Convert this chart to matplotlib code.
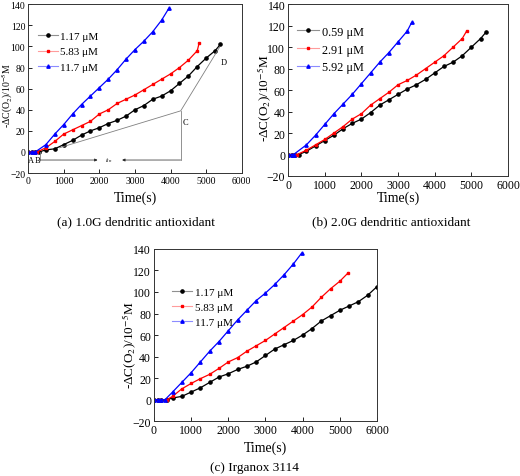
import matplotlib
matplotlib.use("Agg")
import matplotlib.pyplot as plt
from matplotlib.lines import Line2D

plt.rcParams['font.family'] = ['Liberation Serif', 'DejaVu Serif']
plt.rcParams['mathtext.fontset'] = 'stix'

# ---- data (time in s, -dC(O2) in 1e-5 M) ----
# (a) 1.0G dendritic antioxidant
t_a1 = [0, 100, 200, 300, 500, 750, 1000, 1250, 1500, 1750, 2000, 2250, 2500, 2750, 3000, 3250,
        3500, 3750, 4000, 4250, 4500, 4750, 5000, 5250, 5400]
y_a1 = [0, 0, 0, 0, 2, 3, 7, 11, 16, 20, 23, 27, 30, 34, 40, 44, 50, 53, 58, 65, 72, 81, 89, 96, 102]
t_a2 = [0, 100, 200, 250, 500, 750, 1000, 1250, 1500, 1750, 2000, 2250, 2500, 2750, 3000, 3250,
        3500, 3750, 4000, 4250, 4500, 4750, 4800]
y_a2 = [0, 0, 0, 0, 4, 10, 17, 21, 25, 29, 36, 40, 46, 50, 54, 59, 64, 69, 74, 80, 87, 96, 103]
t_a3 = [0, 100, 200, 500, 750, 1000, 1250, 1500, 1750, 2000, 2250, 2500, 2750, 3000, 3250,
        3500, 3750, 3950]
y_a3 = [0, 0, 0, 7, 17, 26, 36, 45, 53, 61, 69, 78, 88, 97, 105, 114, 125, 136]

# (b) 2.0G dendritic antioxidant
t_b1 = [0, 100, 200, 300, 500, 750, 1000, 1250, 1500, 1750, 2000, 2250, 2500, 2750, 3000, 3250,
        3500, 3750, 4000, 4250, 4500, 4750, 5000, 5250, 5400]
y_b1 = [0, 0, 0, 0, 3, 8, 13, 18, 24, 29, 33, 39, 46, 51, 56, 61, 65, 70, 76, 82, 86, 92, 100, 108, 114]
t_b2 = [0, 100, 200, 250, 500, 750, 1000, 1250, 1500, 1750, 2000, 2250, 2500, 2750, 3000, 3250,
        3500, 3750, 4000, 4250, 4500, 4750, 4870]
y_b2 = [0, 0, 0, 0, 4, 9, 14, 20, 26, 33, 38, 46, 52, 58, 65, 69, 74, 80, 86, 92, 100, 108, 115]
t_b3 = [0, 100, 150, 500, 750, 1000, 1250, 1500, 1750, 2000, 2250, 2500, 2750, 3000, 3250, 3370]
y_b3 = [0, 0, 0, 9, 18, 28, 38, 47, 56, 66, 76, 86, 95, 105, 115, 123]

# (c) Irganox 3114
t_c1 = [0, 100, 200, 350, 500, 750, 1000, 1250, 1500, 1750, 2000, 2250, 2500, 2750, 3000, 3250,
        3500, 3750, 4000, 4250, 4500, 4750, 5000, 5250, 5500, 5750, 6000]
y_c1 = [0, 0, 0, 0, 1.5, 3, 7, 11, 16, 21, 24, 28, 31, 35, 41, 47, 51, 55, 60, 66, 73, 78, 83, 87, 91, 97, 105]
t_c2 = [0, 100, 200, 350, 500, 750, 1000, 1250, 1500, 1750, 2000, 2250, 2500, 2750, 3000, 3250,
        3500, 3750, 4000, 4250, 4500, 4750, 5000, 5230]
y_c2 = [0, 0, 0, 0, 3, 10, 15, 19.5, 23.5, 29, 35, 39, 45, 50, 55, 61, 67, 73, 79, 86, 95, 103, 110, 118]
t_c3 = [0, 100, 200, 300, 500, 750, 1000, 1250, 1500, 1750, 2000, 2250, 2500, 2750, 3000, 3250,
        3500, 3750, 3970]
y_c3 = [0, 0, 0, 0, 7, 16, 25, 35, 45, 54, 64, 74, 83, 92, 99, 107, 116, 126, 136]

labels_a = ['1.17 μM', '5.83 μM', '11.7 μM']
labels_b = ['0.59 μM', '2.91 μM', '5.92 μM']
labels_c = ['1.17 μM', '5.83 μM', '11.7 μM']

# marker colour, legend line colour, marker, marker size
styles = [('black', '#909090', 'o', 2.3),
          ('red', '#ff9c9c', 's', 1.7),
          ('blue', '#8c8cff', '^', 2.4)]

fig = plt.figure(figsize=(5.2, 4.77), dpi=100)
ax_a = fig.add_axes([0.054, 0.635, 0.411, 0.354])
ax_b = fig.add_axes([0.554, 0.629, 0.423, 0.360])
ax_c = fig.add_axes([0.296, 0.115, 0.429, 0.361])


def draw(ax, series, labels, tfs, lfs, legfs, ylab_xy, leg_xy, lsp, xpad):
    handles = []
    for (t, y), lab, (mc, lc, mk, ms) in zip(series, labels, styles):
        ax.plot(t, y, color=mc, lw=0.9, marker=mk, markersize=ms,
                markerfacecolor=mc, markeredgecolor=mc)
        handles.append(Line2D([], [], color=lc, lw=0.8, marker=mk, markersize=ms,
                              markerfacecolor=mc, markeredgecolor=mc, label=lab))
    ax.set_xlim(0, 6000)
    ax.set_ylim(-20, 140)
    ax.set_xticks(range(0, 6001, 1000))
    ax.set_yticks(range(-20, 141, 20))
    ax.tick_params(direction='in', labelsize=tfs, length=3, width=0.6, pad=2)
    for s in ax.spines.values():
        s.set_linewidth(0.7)
        s.set_color('#333333')
    ax.set_xlabel('Time(s)', fontsize=10, labelpad=xpad)
    ax.set_ylabel('-ΔC(O$_2$)/10$^{-5}$M', fontsize=lfs)
    ax.yaxis.set_label_coords(*ylab_xy)
    ax.legend(handles=handles, loc='upper left', bbox_to_anchor=leg_xy, frameon=False,
              fontsize=legfs, handlelength=1.8, handletextpad=0.25, labelspacing=lsp,
              borderpad=0, borderaxespad=0)


draw(ax_a, [(t_a1, y_a1), (t_a2, y_a2), (t_a3, y_a3)], labels_a,
     7, 7, 8, (-0.061, 0.467), (0.045, 0.843), 0.55, 4)
draw(ax_b, [(t_b1, y_b1), (t_b2, y_b2), (t_b3, y_b3)], labels_b,
     8.5, 9.5, 8.8, (-0.063, 0.46), (0.04, 0.875), 0.48, 0)
draw(ax_c, [(t_c1, y_c1), (t_c2, y_c2), (t_c3, y_c3)], labels_c,
     8.5, 9.5, 8, (-0.068, 0.45), (0.081, 0.778), 0.46, 3)

# annotation of panel (a)
g = '#808080'
ax_a.plot([880, 4285, 5380], [4, 39, 99.5], color=g, lw=0.6)
ax_a.plot([4285, 4285], [39, -7.6], color=g, lw=0.6)
ax_a.plot([330, 330], [0, -7.6], color=g, lw=0.6)
arr = dict(arrowstyle='-|>', color='#222222', lw=0.5, mutation_scale=4, shrinkA=0, shrinkB=0)
ax_a.annotate('', xy=(1950, -7.6), xytext=(330, -7.6), arrowprops=arr)
ax_a.annotate('', xy=(2640, -7.6), xytext=(4285, -7.6), arrowprops=arr)
ax_a.text(2270, -7.6, '$t_{in}$', fontsize=5, ha='center', va='center')
ax_a.text(74, -7.3, 'A', fontsize=6, ha='center', va='center')
ax_a.text(278, -7.3, 'B', fontsize=6, ha='center', va='center')
ax_a.text(4406, 28.7, 'C', fontsize=6, ha='center', va='center')
ax_a.text(5490, 85, 'D', fontsize=6, ha='center', va='center')

fig.text(0.262, 0.535, '(a) 1.0G dendritic antioxidant', fontsize=9.5, ha='center', va='center')
fig.text(0.752, 0.535, '(b) 2.0G dendritic antioxidant', fontsize=9.5, ha='center', va='center')
fig.text(0.489, 0.019, '(c) Irganox 3114', fontsize=9.5, ha='center', va='center')

fig.savefig('out.png', dpi=100)
